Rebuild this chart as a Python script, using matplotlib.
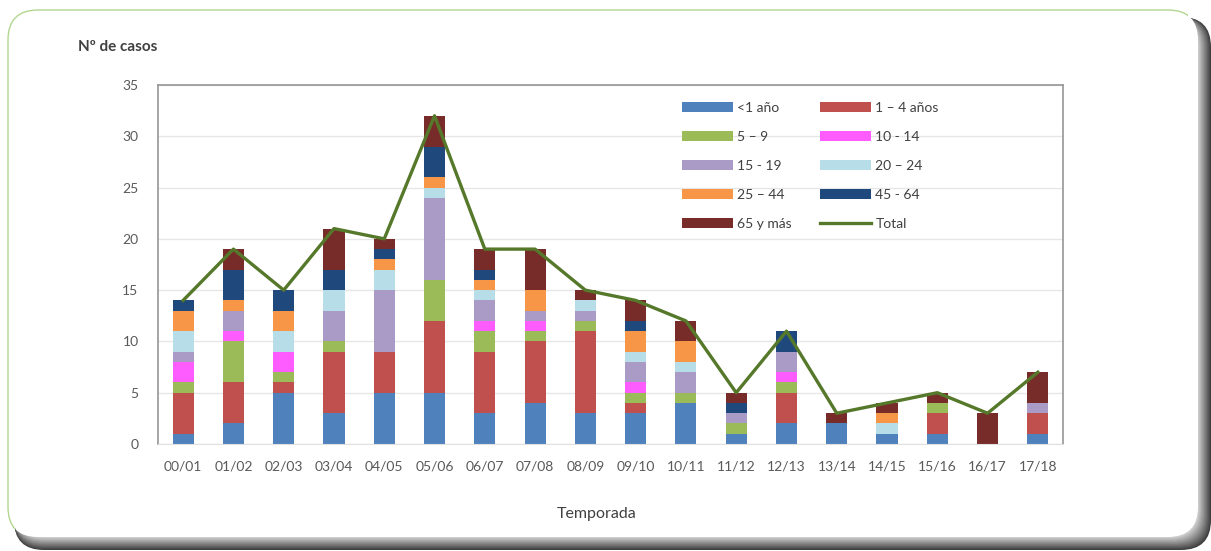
import numpy as np
import matplotlib.pyplot as plt
from matplotlib.patches import FancyBboxPatch, Rectangle
from matplotlib.lines import Line2D
from matplotlib.patches import Patch

plt.rcParams['font.family'] = ['Lato', 'DejaVu Sans']

temporadas = ['00/01', '01/02', '02/03', '03/04', '04/05', '05/06', '06/07', '07/08', '08/09',
              '09/10', '10/11', '11/12', '12/13', '13/14', '14/15', '15/16', '16/17', '17/18']

grupos = ['<1 año', '1 – 4 años', '5 – 9', '10 - 14', '15 - 19', '20 – 24', '25 – 44', '45 - 64', '65 y más']

menor_1  = [1, 2, 5, 3, 5, 5, 3, 4, 3, 3, 4, 1, 2, 2, 1, 1, 0, 1]
de_1_4   = [4, 4, 1, 6, 4, 7, 6, 6, 8, 1, 0, 0, 3, 0, 0, 2, 0, 2]
de_5_9   = [1, 4, 1, 1, 0, 4, 2, 1, 1, 1, 1, 1, 1, 0, 0, 1, 0, 0]
de_10_14 = [2, 1, 2, 0, 0, 0, 1, 1, 0, 1, 0, 0, 1, 0, 0, 0, 0, 0]
de_15_19 = [1, 2, 0, 3, 6, 8, 2, 1, 1, 2, 2, 1, 2, 0, 0, 0, 0, 1]
de_20_24 = [2, 0, 2, 2, 2, 1, 1, 0, 1, 1, 1, 0, 0, 0, 1, 0, 0, 0]
de_25_44 = [2, 1, 2, 0, 1, 1, 1, 2, 0, 2, 2, 0, 0, 0, 1, 0, 0, 0]
de_45_64 = [1, 3, 2, 2, 1, 3, 1, 0, 0, 1, 0, 1, 2, 0, 0, 0, 0, 0]
mayor_65 = [0, 2, 0, 4, 1, 3, 2, 4, 1, 2, 2, 1, 0, 1, 1, 1, 3, 3]

series = [menor_1, de_1_4, de_5_9, de_10_14, de_15_19, de_20_24, de_25_44, de_45_64, mayor_65]
colores = ['#4F81BD', '#C0504D', '#9BBB59', '#FF5CFF', '#A99BC5', '#B7DEE8', '#F79646', '#1F497D', '#772C2A']
color_total = '#55782A'

total = np.sum(np.array(series), axis=0)

fig = plt.figure(figsize=(12.11, 5.51), dpi=100)

# marco redondeado con sombra oscura abajo y a la derecha (medidas en pixeles)
px = 1 / 100.0
n = 13
for i in range(n):
    d = n - i
    g = 0.25 + 0.55 * i / (n - 1)
    sh = FancyBboxPatch((14 * px, (14 - d) * px), (1184 + d) * px, (520 + d) * px,
                        boxstyle='round,pad=0,rounding_size=0.3',
                        transform=fig.dpi_scale_trans, facecolor=(g, g, g), edgecolor='none', zorder=0)
    fig.add_artist(sh)
caja = FancyBboxPatch((8 * px, 14 * px), 1190 * px, 527 * px,
                      boxstyle='round,pad=0,rounding_size=0.3',
                      transform=fig.dpi_scale_trans, facecolor='white', edgecolor='none', zorder=0.5)
fig.add_artist(caja)
borde = FancyBboxPatch((8 * px, 14 * px), 1190 * px, 527 * px,
                       boxstyle='round,pad=0,rounding_size=0.3',
                       transform=fig.dpi_scale_trans, facecolor='none', edgecolor='#B2D68F',
                       linewidth=1.0, zorder=0.6)
fig.add_artist(borde)
recorte = Rectangle((0, 22 * px), 1188 * px, 540 * px, transform=fig.dpi_scale_trans)
borde.set_clip_path(recorte)

ax = fig.add_axes([158 / 1211, 1 - 444 / 551, (1063 - 158) / 1211, (444 - 85) / 551])
ax.set_zorder(1)
ax.patch.set_alpha(0)

x = np.arange(len(temporadas))
base = np.zeros(len(temporadas))
for vals, col in zip(series, colores):
    ax.bar(x, vals, bottom=base, width=0.42, color=col, zorder=2)
    base = base + np.array(vals)

ax.plot(x, total, color=color_total, linewidth=2.4, zorder=3)

ax.set_xlim(-0.5, len(temporadas) - 0.5)
ax.set_ylim(0, 35)
ax.set_yticks(range(0, 36, 5))
ax.set_xticks(x)
ax.set_xticklabels(temporadas)
ax.yaxis.grid(True, color='#E6E6E6', linewidth=1.0, zorder=0)
ax.tick_params(axis='x', length=0, labelsize=10, colors='#595959', pad=12)
ax.tick_params(axis='y', length=0, labelsize=10, colors='#595959', pad=14)
for lado in ['left', 'top', 'right']:
    ax.spines[lado].set_color('#969696')
    ax.spines[lado].set_linewidth(1.2)
ax.spines['bottom'].set_color('#E0E0E0')

fig.text(78 / 1211, 1 - 47 / 551, 'Nº de casos', fontsize=11, fontweight='bold', color='#404040',
         va='center', ha='left')
fig.text(597 / 1211, 1 - 514 / 551, 'Temporada', fontsize=11.5, color='#404040', va='center', ha='center')

# leyenda en dos columnas, filas ordenadas como en la tabla
h = [Patch(facecolor=c, edgecolor='none') for c in colores]
h.append(Line2D([0], [0], color=color_total, linewidth=2.4))
etiquetas = grupos + ['Total']
orden = [0, 2, 4, 6, 8, 1, 3, 5, 7, 9]
ax.legend([h[i] for i in orden], [etiquetas[i] for i in orden], ncol=2, frameon=False,
          loc='upper left', bbox_to_anchor=(0.565, 0.988), fontsize=10, labelcolor='#404040',
          handlelength=3.7, handleheight=0.7, handletextpad=0.3, columnspacing=2.0,
          labelspacing=1.22, borderaxespad=0.5)

fig.savefig('out.png', dpi=100)
